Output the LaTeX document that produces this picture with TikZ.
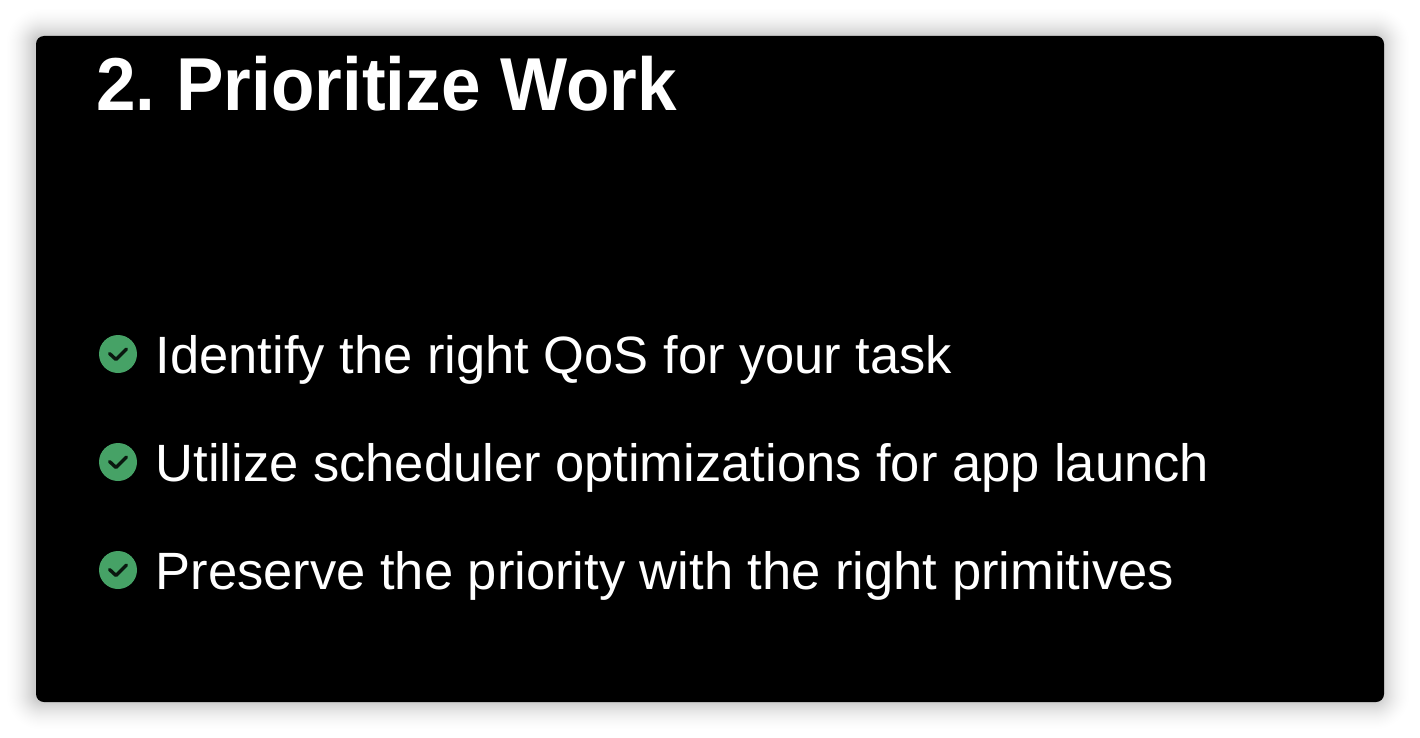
\documentclass[tikz,border=0pt]{standalone}
\usepackage{fontspec}
\setmainfont{Liberation Sans}
\newfontfamily\titlefont[FakeStretch=0.948]{Liberation Sans Bold}
\definecolor{checkgreen}{HTML}{46A266}
\tikzset{
    bullet/.style={circle, fill=checkgreen, minimum size=38pt, inner sep=0pt},
    itemtext/.style={anchor=base west, inner sep=0pt, text=white, font=\fontsize{52.5}{60}\selectfont},
    tick/.style={line width=3.4pt, line cap=round, line join=round, draw=black!85!checkgreen}
}
\begin{document}
\begin{tikzpicture}[x=1pt, y=-1pt]
    \useasboundingbox (0,0) rectangle (1420,738);
    \fill[white] (0,0) rectangle (1420,738);

    % soft shadow round the slide
    \foreach \i in {1,...,50} {
        \pgfmathsetmacro{\r}{32*(1-sqrt(\i/50))}
        \fill[black, opacity=0.004, rounded corners=\r pt+8pt] (36-\r-2,36-\r) rectangle (1384+\r-2,702+\r);
    }
    \fill[black, rounded corners=8pt] (36,36) rectangle (1384,702);

    \node[anchor=base west, inner sep=0pt, text=white, font=\titlefont\fontsize{75}{80}\selectfont] (title) at (96,111) {2.\hspace{21pt}Prioritize Work};

    \node[bullet] (bulleta) at (118,354) {};
    \node[itemtext] (itema) at (155.5,373) {Identify the right QoS for your task};
    \draw[tick] (109.5,353.5) -- (116,359.5) -- (126.5,349);

    \node[bullet] (bulletb) at (118,462) {};
    \node[itemtext] (itemb) at (155.5,481) {Utilize scheduler optimizations for app launch};
    \draw[tick] (109.5,461.5) -- (116,467.5) -- (126.5,457);

    \node[bullet] (bulletc) at (118,570) {};
    \node[itemtext] (itemc) at (155.5,589) {Preserve the priority with the right primitives};
    \draw[tick] (109.5,569.5) -- (116,575.5) -- (126.5,565);
\end{tikzpicture}
\end{document}
